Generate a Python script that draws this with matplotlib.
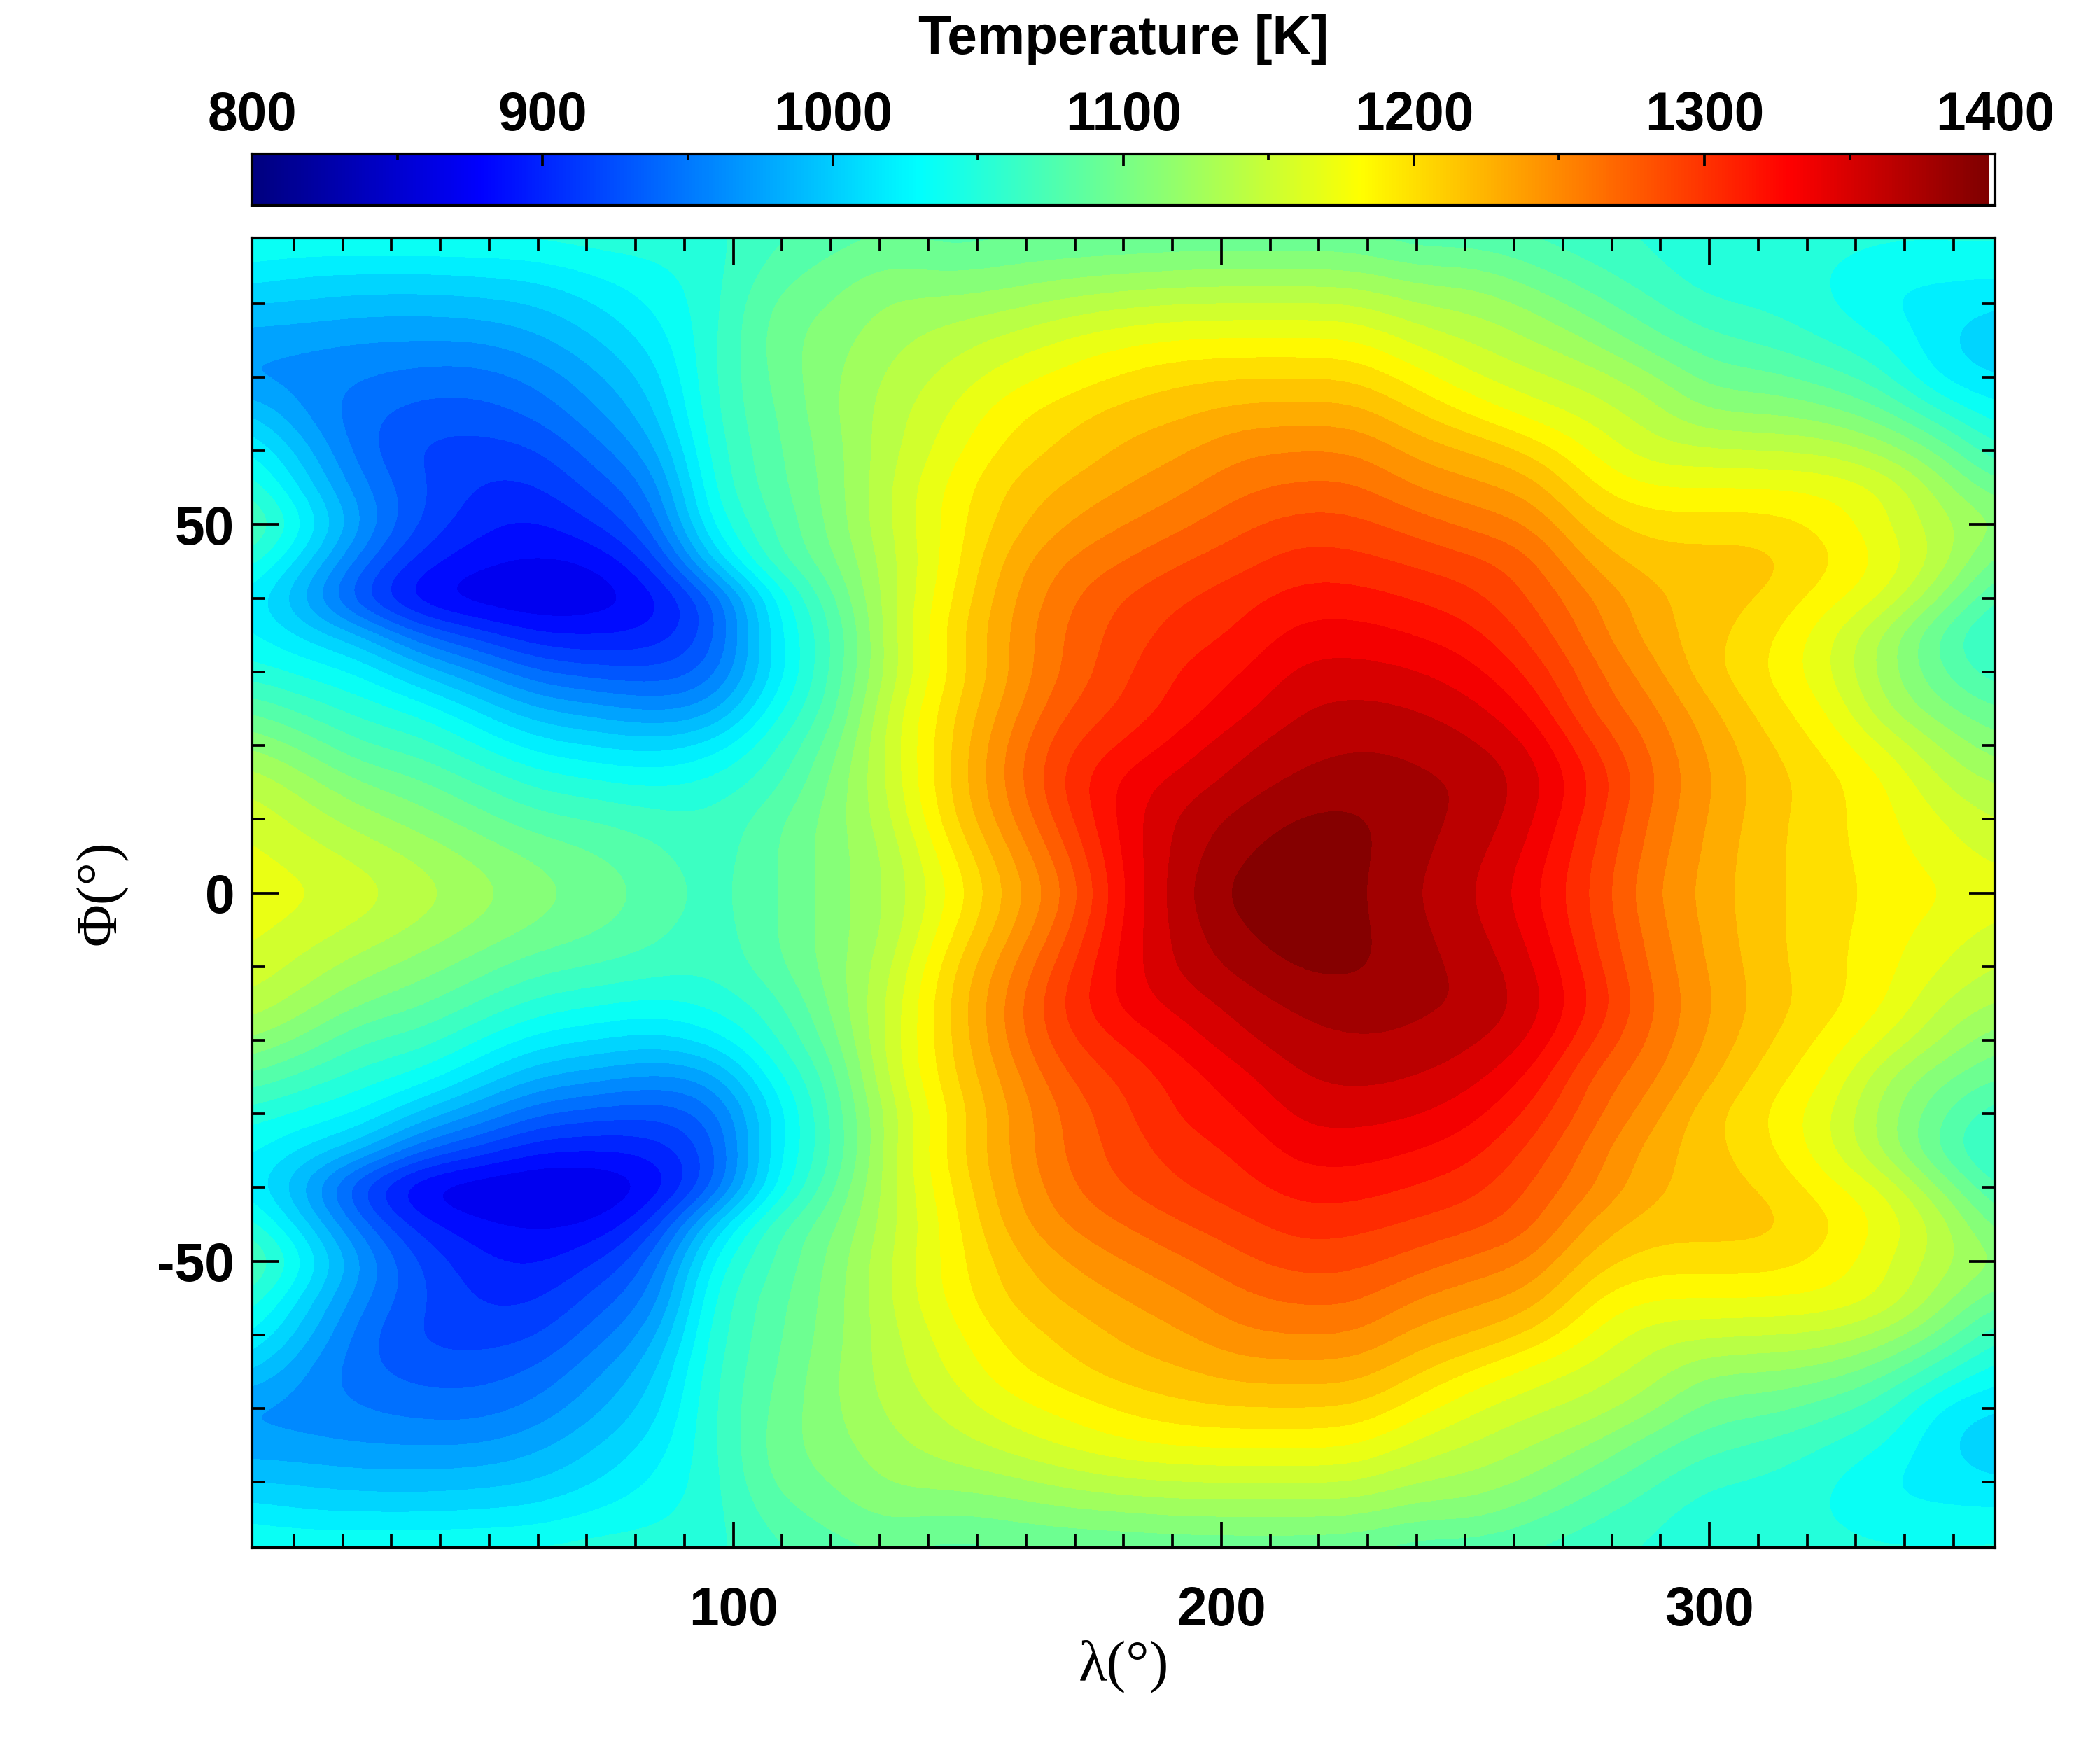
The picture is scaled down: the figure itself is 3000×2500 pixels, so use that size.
import numpy as np
import matplotlib
matplotlib.use('Agg')
import matplotlib.pyplot as plt
from matplotlib.colors import LinearSegmentedColormap, ListedColormap, BoundaryNorm, Normalize
from matplotlib.ticker import MultipleLocator, FuncFormatter

plt.rcParams['font.family'] = ['Liberation Sans', 'DejaVu Sans']
plt.rcParams['font.weight'] = 'bold'

# longitudes of the columns, latitudes of the rows (north half, mirrored below)
lons = list(range(0, 361, 12))
lats_north = list(range(0, 91, 5))

# temperature, one list per longitude, lat 0 -> 90
temp_by_lon = [
    [1180,1176,1168,1154,1127,1095,1058,1040,1033,1065,1098,1068,1042,1012,970,982,1005,1035,1055],
    [1174,1164,1150,1132,1107,1074,1046,1018,985,1012,1042,1015,998,973,968,978,1003,1025,1058],
    [1163,1152,1132,1110,1080,1058,1035,995,920,950,975,962,948,948,960,975,998,1025,1058],
    [1148,1137,1118,1098,1073,1046,1002,946,880,905,928,932,925,938,953,975,997,1025,1058],
    [1132,1122,1102,1079,1050,1018,974,923,870,888,903,912,922,938,952,975,1000,1027,1058],
    [1116,1108,1085,1060,1028,990,945,900,866,882,896,911,927,947,964,986,1005,1030,1058],
    [1105,1097,1080,1053,1020,981,937,898,872,884,914,936,953,972,987,1004,1020,1041,1062],
    [1090,1085,1072,1046,1013,970,931,903,888,918,947,960,982,1000,1012,1026,1038,1048,1060],
    [1072,1070,1067,1055,1027,978,947,932,937,1012,1045,1058,1062,1066,1066,1062,1058,1058,1060],
    [1092,1093,1090,1072,1062,1043,1022,1030,1032,1078,1080,1088,1090,1093,1098,1103,1100,1085,1075],
    [1116,1117,1116,1112,1100,1084,1080,1074,1090,1105,1113,1115,1117,1122,1122,1118,1110,1100,1085],
    [1142,1140,1150,1157,1162,1160,1147,1150,1150,1150,1155,1155,1150,1148,1143,1136,1128,1112,1095],
    [1183,1195,1210,1215,1212,1210,1200,1205,1197,1190,1190,1188,1178,1170,1160,1147,1130,1105,1085],
    [1232,1240,1255,1263,1262,1250,1244,1245,1241,1235,1222,1217,1205,1195,1178,1160,1135,1110,1090],
    [1272,1285,1300,1310,1303,1290,1278,1278,1272,1262,1245,1232,1219,1210,1190,1172,1145,1115,1092],
    [1336,1340,1342,1342,1322,1308,1302,1297,1292,1275,1260,1245,1233,1222,1203,1182,1152,1118,1092],
    [1378,1373,1370,1356,1342,1327,1323,1313,1304,1290,1272,1257,1243,1228,1212,1187,1155,1122,1093],
    [1403,1395,1385,1372,1362,1345,1333,1322,1315,1300,1287,1272,1258,1237,1215,1188,1156,1122,1094],
    [1409,1405,1398,1384,1375,1365,1355,1342,1327,1313,1297,1279,1261,1238,1215,1188,1156,1122,1094],
    [1398,1400,1400,1388,1380,1370,1356,1342,1327,1310,1295,1279,1260,1238,1214,1187,1155,1122,1092],
    [1380,1383,1385,1383,1378,1365,1352,1335,1319,1302,1284,1259,1240,1217,1192,1165,1140,1110,1080],
    [1366,1370,1376,1380,1368,1355,1340,1325,1310,1295,1270,1250,1230,1197,1171,1153,1135,1112,1080],
    [1338,1345,1353,1358,1351,1332,1315,1300,1288,1280,1260,1240,1212,1178,1158,1140,1122,1095,1075],
    [1303,1305,1312,1320,1305,1285,1280,1268,1262,1240,1222,1200,1183,1165,1148,1125,1100,1080,1068],
    [1262,1268,1272,1277,1273,1265,1252,1237,1233,1222,1208,1185,1160,1148,1130,1100,1082,1068,1062],
    [1238,1240,1243,1246,1242,1233,1217,1220,1222,1222,1208,1186,1158,1125,1102,1084,1065,1054,1052],
    [1218,1218,1220,1222,1217,1207,1200,1204,1215,1222,1208,1186,1155,1125,1100,1076,1062,1057,1058],
    [1207,1206,1205,1207,1197,1187,1173,1175,1192,1205,1197,1183,1153,1118,1087,1064,1052,1051,1058],
    [1195,1192,1190,1188,1170,1140,1133,1135,1172,1183,1173,1172,1136,1100,1070,1050,1033,1040,1055],
    [1187,1178,1170,1153,1138,1112,1093,1085,1122,1150,1145,1132,1106,1066,1026,1020,1028,1040,1055],
    [1176,1165,1152,1137,1112,1094,1066,1052,1072,1097,1125,1098,1062,1038,1018,1006,1020,1042,1055],
]

# the south blue lobe is a bit deeper than the north one: lat -40, lon 24 to 84
lons_south_lobe = [24, 36, 48, 60, 72, 84]
temp_south_lobe = [915, 872, 866, 863, 866, 880]

# colour anchors
cbar_temps = [800, 878, 1029, 1182, 1330, 1398]
cbar_colors = ['#000080', '#0000ff', '#00ffff', '#ffff00', '#ff0000', '#800000']
cbar_ticks = [800, 900, 1000, 1100, 1200, 1300, 1400]

north = np.array(temp_by_lon).T
temp = np.vstack([north[:0:-1], north])
lat = np.array([-l for l in lats_north[:0:-1]] + lats_north)
lon = np.array(lons)
for l, t in zip(lons_south_lobe, temp_south_lobe):
    temp[lat == -40, lon == l] = t

norm = Normalize(800, 1400)
cmap = LinearSegmentedColormap.from_list(
    'map', [(norm(t), c) for t, c in zip(cbar_temps, cbar_colors)] + [(1.0, '#800000')], N=512)
levels = np.arange(795, 1426, 15)
band_colors = [cmap(norm(l)) for l in levels[:-1]]
band_cmap = ListedColormap(band_colors)
band_norm = BoundaryNorm(levels, len(band_colors))

fig = plt.figure(figsize=(10, 25 / 3), dpi=300)
ax = fig.add_axes([0.12, 0.1156, 0.83, 0.7484])
# bands come from the image resampling of the read-off grid, no extra data points
ax.imshow(temp, origin='lower', aspect='auto', cmap=band_cmap, norm=band_norm,
          extent=(lon[0] - 6, lon[-1] + 6, lat[0] - 2.5, lat[-1] + 2.5),
          interpolation='bicubic', interpolation_stage='data')
ax.set_xlim(1.4, 358.5)
ax.set_ylim(-88.9, 88.9)

ax.xaxis.set_major_locator(MultipleLocator(100))
ax.xaxis.set_minor_locator(MultipleLocator(10))
ax.yaxis.set_major_locator(MultipleLocator(50))
ax.yaxis.set_minor_locator(MultipleLocator(10))
ax.yaxis.set_major_formatter(FuncFormatter(lambda v, p: '%d' % v))
ax.tick_params(which='major', direction='in', top=True, right=True, length=9, width=0.9,
               labelsize=18.4, pad=13)
ax.tick_params(which='minor', direction='in', top=True, right=True, length=4.5, width=0.9)
ax.tick_params(axis='y', which='major', pad=6)
for s in ax.spines.values():
    s.set_linewidth(1.0)
ax.set_xlabel('λ(°)', fontsize=20, family=['Liberation Serif', 'DejaVu Serif'], labelpad=1)
ax.set_ylabel('Φ(°)', fontsize=20, family=['Liberation Serif', 'DejaVu Serif'], labelpad=10)

# colour bar on top
cax = fig.add_axes([0.12, 0.8828, 0.83, 0.0292])
gradient = np.linspace(800, 1398, 600)[None, :]
cax.imshow(gradient, extent=(800, 1398, 0, 1), aspect='auto', cmap=cmap, norm=norm,
           interpolation='bilinear')
cax.set_xlim(800, 1400)
cax.set_ylim(0, 1)
cax.set_yticks([])
cax.set_xticks(cbar_ticks)
cax.xaxis.set_minor_locator(MultipleLocator(50))
cax.xaxis.tick_top()
cax.tick_params(which='major', axis='x', direction='in', length=4, width=0.9, labelsize=18.4, pad=4.3)
cax.tick_params(which='minor', axis='x', direction='in', length=2, width=0.9, top=True, bottom=False)
for s in cax.spines.values():
    s.set_linewidth(1.0)
cax.set_title('Temperature [K]', fontsize=18.4, fontweight='bold', pad=12.6)

fig.savefig('out.png', dpi=300)
